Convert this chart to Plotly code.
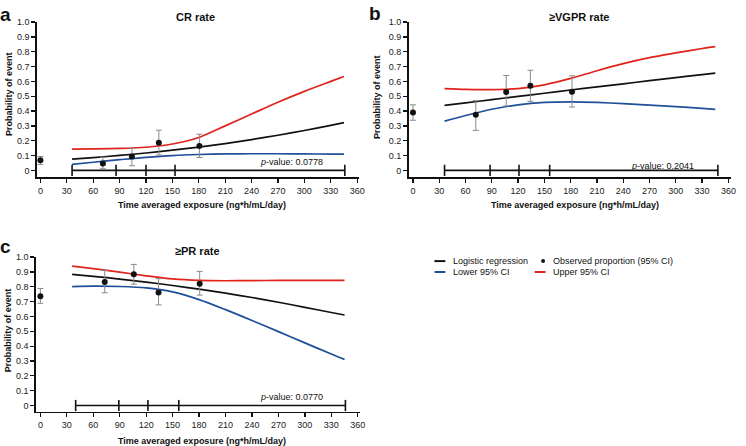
import plotly.graph_objects as go

# ---------------- data ----------------
curve_x = [36, 60, 90, 120, 150, 180, 210, 240, 270, 300, 330, 345]

# Panel a: CR rate
a_logit = [0.076, 0.086, 0.101, 0.117, 0.136, 0.157, 0.181, 0.208, 0.237, 0.269, 0.304, 0.322]
a_lower = [0.040, 0.055, 0.072, 0.088, 0.100, 0.107, 0.111, 0.112, 0.112, 0.111, 0.110, 0.109]
a_upper = [0.144, 0.145, 0.148, 0.156, 0.178, 0.222, 0.300, 0.380, 0.460, 0.533, 0.600, 0.633]
a_obs_x = [0, 71, 104, 134.6, 180.7]
a_obs_y = [0.069, 0.047, 0.093, 0.187, 0.164]
a_obs_lo = [0.040, 0.011, 0.031, 0.104, 0.087]
a_obs_hi = [0.093, 0.089, 0.149, 0.271, 0.244]
a_range = [36, 86, 120, 153, 346]
a_p = "0.0778"

# Panel b: >=VGPR rate
b_logit = [0.438, 0.455, 0.477, 0.499, 0.520, 0.542, 0.563, 0.584, 0.605, 0.626, 0.646, 0.656]
b_lower = [0.332, 0.370, 0.412, 0.442, 0.458, 0.462, 0.458, 0.450, 0.440, 0.430, 0.418, 0.411]
b_upper = [0.552, 0.546, 0.545, 0.552, 0.577, 0.620, 0.672, 0.720, 0.760, 0.792, 0.822, 0.835]
b_obs_x = [0, 71.7, 106.4, 134, 181.5]
b_obs_y = [0.391, 0.375, 0.529, 0.571, 0.531]
b_obs_lo = [0.338, 0.270, 0.435, 0.466, 0.427]
b_obs_hi = [0.442, 0.470, 0.640, 0.675, 0.638]
b_range = [36, 88, 121, 156, 348]
b_p = "0.2041"

# Panel c: >=PR rate
c_logit = [0.884, 0.871, 0.852, 0.832, 0.809, 0.784, 0.757, 0.728, 0.696, 0.662, 0.627, 0.610]
c_lower = [0.801, 0.804, 0.802, 0.793, 0.766, 0.714, 0.646, 0.573, 0.498, 0.422, 0.347, 0.311]
c_upper = [0.939, 0.922, 0.899, 0.874, 0.853, 0.843, 0.841, 0.842, 0.843, 0.843, 0.843, 0.843]
c_obs_x = [0, 73, 106, 134, 180.7]
c_obs_y = [0.736, 0.833, 0.884, 0.762, 0.820]
c_obs_lo = [0.689, 0.760, 0.818, 0.678, 0.744]
c_obs_hi = [0.789, 0.911, 0.951, 0.855, 0.904]
c_range = [40, 89, 122, 157, 346]
c_p = "0.0770"

titles = ["CR rate", "≥VGPR rate", "≥PR rate"]
panel_letters = ["a", "b", "c"]
x_ticks = [0, 30, 60, 90, 120, 150, 180, 210, 240, 270, 300, 330, 360]
y_ticks = [0, 0.1, 0.2, 0.3, 0.4, 0.5, 0.6, 0.7, 0.8, 0.9, 1.0]
y_ticktext = ["0", "0.1", "0.2", "0.3", "0.4", "0.5", "0.6", "0.7", "0.8", "0.9", "1.0"]
x_title = "Time averaged exposure (ng*h/mL/day)"
y_title = "Probability of event"
legend_labels = ["Logistic regression", "Observed proportion (95% CI)", "Lower 95% CI", "Upper 95% CI"]

# ---------------- style ----------------
W, H = 746, 446
FONT = "Liberation Sans, Arial, sans-serif"
BLACK = "#111111"
RED = "#e0231c"
BLUE = "#1f4e9a"
GREY = "#8a8a8a"


def px_x(p):
    return p / W


def px_y(p):
    return 1 - p / H


panels = [
    dict(logit=a_logit, lower=a_lower, upper=a_upper, ox=a_obs_x, oy=a_obs_y, olo=a_obs_lo, ohi=a_obs_hi,
         rng=a_range, p=a_p, p_y=0.055,
         xdom=(37, 362), xr=(-4.2, 362.2), ydom=(17.3, 174.3), yr=(-0.047, 1.0),
         title_xy=(197, 12), letter_xy=(6, 10), ytitle_xy=(9, 90), xtitle_xy=(204, 202.5)),
    dict(logit=b_logit, lower=b_lower, upper=b_upper, ox=b_obs_x, oy=b_obs_y, olo=b_obs_lo, ohi=b_obs_hi,
         rng=b_range, p=b_p, p_y=0.028,
         xdom=(412, 736.7), xr=(-4.9, 362.7), ydom=(17.3, 174.3), yr=(-0.047, 1.0),
         title_xy=(584, 12), letter_xy=(378, 9), ytitle_xy=(380, 93), xtitle_xy=(580, 202.5)),
    dict(logit=c_logit, lower=c_lower, upper=c_upper, ox=c_obs_x, oy=c_obs_y, olo=c_obs_lo, ohi=c_obs_hi,
         rng=c_range, p=c_p, p_y=0.057,
         xdom=(36, 362.7), xr=(-5.3, 362.3), ydom=(255, 411.5), yr=(-0.043, 1.0),
         title_xy=(199, 249), letter_xy=(6, 244), ytitle_xy=(8, 329), xtitle_xy=(204, 440.5)),
]

fig = go.Figure()
annotations = []
layout_axes = {}

for i, pn in enumerate(panels):
    k = "" if i == 0 else str(i + 1)
    xa, ya = "x" + k, "y" + k

    # range bar (exposure distribution)
    fig.add_trace(go.Scatter(x=pn["rng"], y=[0] * len(pn["rng"]), xaxis=xa, yaxis=ya,
                             mode="lines+markers", line=dict(color=BLACK, width=1.6),
                             marker=dict(symbol="line-ns", size=8, line=dict(color=BLACK, width=1.6)),
                             showlegend=False, hoverinfo="skip", cliponaxis=False))
    # curves
    fig.add_trace(go.Scatter(x=curve_x, y=pn["lower"], xaxis=xa, yaxis=ya, mode="lines",
                             line=dict(color=BLUE, width=1.7, shape="spline", smoothing=0.8),
                             showlegend=False))
    fig.add_trace(go.Scatter(x=curve_x, y=pn["upper"], xaxis=xa, yaxis=ya, mode="lines",
                             line=dict(color=RED, width=1.7, shape="spline", smoothing=0.8),
                             showlegend=False))
    fig.add_trace(go.Scatter(x=curve_x, y=pn["logit"], xaxis=xa, yaxis=ya, mode="lines",
                             line=dict(color=BLACK, width=1.7, shape="spline", smoothing=0.8),
                             showlegend=False))
    # observed proportions with CI
    plus = [h - y for h, y in zip(pn["ohi"], pn["oy"])]
    minus = [y - l for l, y in zip(pn["olo"], pn["oy"])]
    fig.add_trace(go.Scatter(x=pn["ox"], y=pn["oy"], xaxis=xa, yaxis=ya, mode="markers",
                             marker=dict(color=BLACK, size=6),
                             error_y=dict(type="data", array=plus, arrayminus=minus, symmetric=False,
                                          color=GREY, thickness=1, width=3),
                             showlegend=False, cliponaxis=False))

    x0, x1 = pn["xdom"]
    y0, y1 = pn["ydom"]
    layout_axes["xaxis" + k] = dict(
        domain=[px_x(x0), px_x(x1)], range=list(pn["xr"]), anchor=ya,
        tickvals=x_ticks, ticks="outside", ticklen=4, tickwidth=1.3, tickcolor=BLACK,
        showline=True, linecolor=BLACK, linewidth=1.5, showgrid=False, zeroline=False,
        tickfont=dict(family=FONT, size=9, color="#222"), fixedrange=True)
    layout_axes["yaxis" + k] = dict(
        domain=[px_y(y1), px_y(y0)], range=list(pn["yr"]), anchor=xa,
        tickvals=y_ticks, ticktext=y_ticktext, ticks="outside", ticklen=4, tickwidth=1.3,
        tickcolor=BLACK, showline=True, linecolor=BLACK, linewidth=1.5, showgrid=False,
        zeroline=False, tickfont=dict(family=FONT, size=9, color="#222"), fixedrange=True)

    # p-value text
    annotations.append(dict(x=323, y=pn["p_y"], xref=xa, yref=ya, xanchor="right", yanchor="middle",
                            text="<i>p</i>-value: " + pn["p"], showarrow=False,
                            font=dict(family=FONT, size=9, color=BLACK)))
    # title
    tx, ty = pn["title_xy"]
    annotations.append(dict(x=px_x(tx), y=px_y(ty), xref="paper", yref="paper", xanchor="center",
                            yanchor="middle", text="<b>" + titles[i] + "</b>", showarrow=False,
                            font=dict(family=FONT, size=11, color=BLACK)))
    # panel letter
    lx, ly = pn["letter_xy"]
    annotations.append(dict(x=px_x(lx), y=px_y(ly), xref="paper", yref="paper", xanchor="center",
                            yanchor="middle", text="<b>" + panel_letters[i] + "</b>", showarrow=False,
                            font=dict(family=FONT, size=19, color=BLACK)))
    # y title
    yx, yy = pn["ytitle_xy"]
    annotations.append(dict(x=px_x(yx), y=px_y(yy), xref="paper", yref="paper", xanchor="center",
                            yanchor="middle", text="<b>" + y_title + "</b>", textangle=-90,
                            showarrow=False, font=dict(family=FONT, size=9, color=BLACK)))
    # x title
    xx, xy = pn["xtitle_xy"]
    annotations.append(dict(x=px_x(xx), y=px_y(xy), xref="paper", yref="paper", xanchor="center",
                            yanchor="middle", text="<b>" + x_title + "</b>", showarrow=False,
                            font=dict(family=FONT, size=9, color=BLACK)))

# ---------------- manual legend ----------------
shapes = []
legend_items = [
    (legend_labels[0], "line", BLACK, 438, 455, 259),
    (legend_labels[1], "dot", BLACK, 542, 555, 259),
    (legend_labels[2], "line", BLUE, 438, 455, 270),
    (legend_labels[3], "line", RED, 539, 555, 270),
]
for label, kind, col, kx, tx, ty in legend_items:
    if kind == "line":
        shapes.append(dict(type="line", xref="paper", yref="paper",
                           x0=px_x(kx), x1=px_x(kx + 11), y0=px_y(ty), y1=px_y(ty),
                           line=dict(color=col, width=2)))
    else:
        shapes.append(dict(type="circle", xref="paper", yref="paper",
                           x0=px_x(kx + 3.5), x1=px_x(kx + 7.5), y0=px_y(ty + 2), y1=px_y(ty - 2),
                           fillcolor=col, line=dict(color=col, width=0)))
    annotations.append(dict(x=px_x(tx), y=px_y(ty), xref="paper", yref="paper", xanchor="left",
                            yanchor="middle", text=label, showarrow=False,
                            font=dict(family=FONT, size=9, color=BLACK)))

fig.update_layout(
    width=W, height=H, margin=dict(l=0, r=0, t=0, b=0),
    paper_bgcolor="white", plot_bgcolor="white", showlegend=False, hovermode=False,
    annotations=annotations, shapes=shapes, **layout_axes)

fig.write_html("out.html", config={"displayModeBar": False, "staticPlot": True},
               post_script="document.body.style.margin='0';document.body.style.overflow='hidden';")
